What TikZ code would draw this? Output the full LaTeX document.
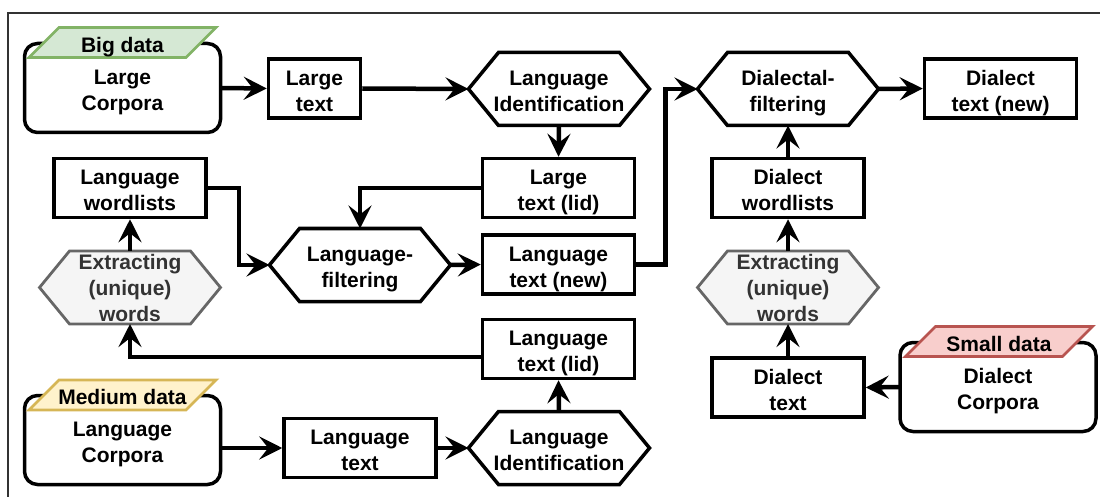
\documentclass[tikz,border=0pt]{standalone}
\usepackage{fontspec}
\setmainfont{Liberation Sans}
\usetikzlibrary{arrows.meta,calc}
\pgfdeclarelayer{background}
\pgfsetlayers{background,main}
\newcommand\lbl{\fontsize{21}{26}\selectfont\bfseries}
\newcommand\st{\rule{0pt}{19.5pt}}
\definecolor{tagGreenF}{HTML}{D5E8D4}
\definecolor{tagGreenS}{HTML}{82B366}
\definecolor{tagYellowF}{HTML}{FFF2CC}
\definecolor{tagYellowS}{HTML}{D6B656}
\definecolor{tagRedF}{HTML}{F8CECC}
\definecolor{tagRedS}{HTML}{B85450}
\definecolor{exFill}{HTML}{F5F5F5}
\definecolor{exStroke}{HTML}{666666}
\definecolor{exText}{HTML}{333333}
\newcommand\hexpath[2]{%
  \begin{pgfonlayer}{background}
  \draw[#1] ([xshift=-90.5pt]#2.center) -- ([xshift=-60.5pt,yshift=36.5pt]#2.center)
     -- ([xshift=60.5pt,yshift=36.5pt]#2.center) -- ([xshift=90.5pt]#2.center)
     -- ([xshift=60.5pt,yshift=-36.5pt]#2.center) -- ([xshift=-60.5pt,yshift=-36.5pt]#2.center) -- cycle;
  \end{pgfonlayer}}
\newcommand\corpuspath[3]{%
  \begin{pgfonlayer}{background}
  \draw[corpusline] (#1.south west) rectangle (#1.north east);
  \draw[#3] ([xshift=30pt]#2.north west) -- (#2.north east) -- ([xshift=-30pt]#2.south east)
     -- (#2.south west) -- cycle;
  \end{pgfonlayer}}
\tikzset{
  every node/.style={font=\lbl, align=center, text depth=0pt},
  box/.style={draw, line width=3.5pt, minimum width=152pt, minimum height=59pt, inner sep=0pt, fill=white},
  hexnode/.style={minimum width=181pt, minimum height=73pt, inner sep=0pt, outer sep=0pt},
  hexline/.style={draw=black, fill=white, line width=3.5pt, line join=miter},
  exline/.style={draw=exStroke, fill=exFill, line width=2.8pt},
  corpus/.style={minimum width=196pt, minimum height=89pt, inner sep=0pt, outer sep=0pt},
  corpusline/.style={draw=black, fill=white, line width=3.5pt, rounded corners=13pt},
  tagnode/.style={minimum width=187pt, minimum height=30pt, inner sep=0pt, outer sep=0pt},
  greentag/.style={draw=tagGreenS, fill=tagGreenF, line width=2.8pt},
  yellowtag/.style={draw=tagYellowS, fill=tagYellowF, line width=2.8pt},
  redtag/.style={draw=tagRedS, fill=tagRedF, line width=2.8pt},
  arr/.style={line width=4.5pt, -{Stealth[length=23pt, width=23pt, inset=9pt]}},
  frame/.style={draw=black!80, line width=1.3pt}
}
\begin{document}
\begin{tikzpicture}[x=1pt, y=-1pt]
\useasboundingbox (0,0) rectangle (1100,497);
\draw[frame] (8,497) -- (8,13) -- (1100,13);

% corpora
\node[corpus] (lcorp) at (122.5,88) {\st Large\\Corpora};
\node[tagnode] (bigtag) at (122.5,42.5) {\st Big data};
\corpuspath{lcorp}{bigtag}{greentag}

\node[corpus] (mcorp) at (122.5,440) {\st Language\\Corpora};
\node[tagnode] (medtag) at (122.5,395) {\st Medium data};
\corpuspath{mcorp}{medtag}{yellowtag}

\node[corpus] (dcorp) at (998,387) {\st Dialect\\Corpora};
\node[tagnode] (smalltag) at (999,341.5) {\st Small data};
\corpuspath{dcorp}{smalltag}{redtag}

% rectangles
\node[box, minimum width=92pt] (ltext) at (314.5,88.5) {\st Large\\text};
\node[box] (ltlid) at (558.5,188) {\st Large\\text (lid)};
\node[box] (lgnew) at (558.5,264.5) {\st Language\\text (new)};
\node[box] (lwords) at (130,188) {\st Language\\wordlists};
\node[box] (lglid) at (558.5,349) {\st Language\\text (lid)};
\node[box] (lgtext) at (360,448) {\st Language\\text};
\node[box] (dnew) at (1000.5,88.5) {\st Dialect\\text (new)};
\node[box] (dwords) at (788,188) {\st Dialect\\wordlists};
\node[box] (dtext) at (788,387.5) {\st Dialect\\text};

% hexagons
\node[hexnode] (lid1) at (559,89) {\st Language\\Identification};
\hexpath{hexline}{lid1}
\node[hexnode] (lfilt) at (360,265) {\st Language-\\filtering};
\hexpath{hexline}{lfilt}
\node[hexnode, text=exText] (lex) at (130,287.5) {Extracting\\(unique)\\words};
\hexpath{exline}{lex}
\node[hexnode] (lid2) at (559,448) {\st Language\\Identification};
\hexpath{hexline}{lid2}
\node[hexnode] (dfilt) at (788,89) {\st Dialectal-\\filtering};
\hexpath{hexline}{dfilt}
\node[hexnode, text=exText] (dex) at (788,287.5) {Extracting\\(unique)\\words};
\hexpath{exline}{dex}

% connectors
\draw[arr] (lcorp.east) -- (ltext.west);
\draw[arr] (ltext.east) -- (lid1.west);
\draw[arr] (lid1.south) -- (ltlid.north);
\draw[arr] (ltlid.west) -| (lfilt.north);
\draw[arr] (lwords.east) -- ([xshift=31pt]lwords.east) |- (lfilt.west);
\draw[arr] (lfilt.east) -- (lgnew.west);
\draw[arr] (lgnew.east) -- ([xshift=29pt]lgnew.east) |- (dfilt.west);
\draw[arr] (dfilt.east) -- (dnew.west);
\draw[arr] (dwords.north) -- (dfilt.south);
\draw[arr] (dex.north) -- (dwords.south);
\draw[arr] (dtext.north) -- (dex.south);
\draw[arr] (dcorp.west) -- (dtext.east);
\draw[arr] (lex.north) -- (lwords.south);
\draw[arr] ([yshift=-8pt]lglid.west) -| (lex.south);
\draw[arr] (mcorp.east |- lgtext.west) -- (lgtext.west);
\draw[arr] (lgtext.east) -- (lid2.west);
\draw[arr] (lid2.north) -- (lglid.south);
\end{tikzpicture}
\end{document}
